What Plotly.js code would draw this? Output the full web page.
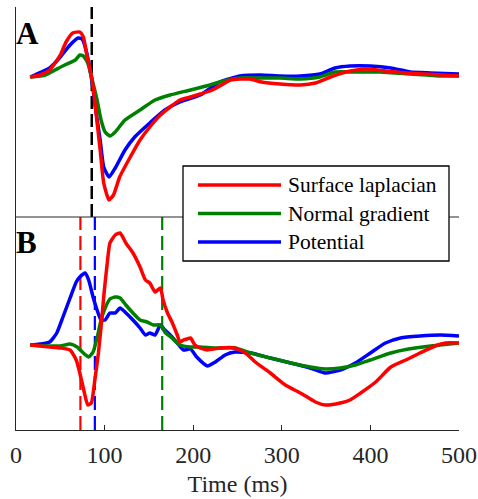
<!DOCTYPE html>
<html>
<head>
<meta charset="utf-8">
<script src="https://cdn.plot.ly/plotly-3.0.1.min.js"></script>
<style>html,body{margin:0;padding:0;background:#fff;}#chart{width:478px;height:499px;}</style>
</head>
<body>
<div id="chart"></div>
<script>
// ---- Panel A (arbitrary units) ----
const tA_lap = [16,27,38,50,56.5,64,72,76,80,86,90,95,99,105,110,117,129,140,151,163,174,185,197,208,219,230,242,264,277,298,321,338,355,372,394,417,440,462,500];
const vA_lap = [0,0.02,0.07,0.22,0.35,0.44,0.45,0.40,0.22,-0.03,-0.33,-0.73,-1.06,-1.23,-1.18,-1.00,-0.80,-0.63,-0.50,-0.38,-0.30,-0.23,-0.20,-0.17,-0.14,-0.09,-0.03,-0.02,-0.05,-0.07,-0.08,-0.06,0.00,0.05,0.08,0.06,0.04,0.03,0.01];

const tA_grad = [16,33,44,55,67,72,76,81,86,91.5,96,100.6,106,112,123,140,157,174,197,219,230,253,276,298,321,343,360,383,411,445,479,500];
const vA_grad = [0,0.02,0.07,0.12,0.17,0.22,0.21,0.14,-0.03,-0.23,-0.43,-0.55,-0.59,-0.55,-0.43,-0.33,-0.23,-0.18,-0.13,-0.08,-0.05,-0.01,-0.01,-0.01,-0.02,0.00,0.05,0.05,0.05,0.03,0.01,0.01];

const tA_pot = [16,38,50,61,70,74.6,79,86,90,95,99,105,112,123,134,151,168,185,208,230,253,276,298,321,343,360,377,400,423,445,468,500];
const vA_pot = [0,0.09,0.20,0.32,0.39,0.38,0.27,-0.06,-0.33,-0.63,-0.90,-1.00,-0.91,-0.73,-0.60,-0.46,-0.33,-0.25,-0.18,-0.05,0.01,0.02,0.01,0.01,0.03,0.09,0.11,0.11,0.09,0.05,0.04,0.03];

// ---- Panel B (arbitrary units) ----
const tB_lap = [16,27,38,50,61,68,72,77,81,85,89,93,96,99.4,103,106,112,117.5,124,132,140,146,151,157,163,166,171,176,182,185,189,193,197,202,208,216,230,247,259,270,287,304,321,338,349,366,377,389,406,423,440,456,473,485,500];
const vB_lap = [0,-0.01,-0.02,-0.03,-0.05,-0.15,-0.28,-0.47,-0.60,-0.58,-0.35,-0.08,0.18,0.52,0.82,1.02,1.10,1.12,1.02,0.92,0.78,0.65,0.62,0.53,0.57,0.45,0.32,0.23,0.10,0.03,0.05,0.06,0.07,0.00,-0.03,-0.05,-0.03,-0.03,-0.08,-0.17,-0.28,-0.40,-0.48,-0.57,-0.60,-0.58,-0.55,-0.48,-0.37,-0.22,-0.15,-0.08,-0.01,0.02,0.02];

const tB_grad = [16,38,50,61,69,76,82,87,91.5,96,100.6,106,112,117.5,124,132,140,148,155,163,168,176,185,197,208,225,247,265,287,310,332,349,366,383,400,423,443,468,500];
const vB_grad = [0,-0.01,-0.01,0.01,-0.02,-0.08,-0.12,-0.07,0.07,0.25,0.37,0.46,0.48,0.47,0.40,0.32,0.25,0.23,0.20,0.20,0.13,0.07,0.00,-0.02,-0.02,-0.03,-0.03,-0.08,-0.13,-0.18,-0.22,-0.24,-0.23,-0.20,-0.15,-0.08,-0.04,-0.01,0.02];

const tB_pot = [16,27,38,46,53,61,68,72,78,82,87,91.5,96,100.6,106,112,117.5,123,132,140,146,151,157,163,168,174,182,189,197,204,216,225,236,247,265,287,310,332,349,366,383,400,417,434,456,479,500];
const vB_pot = [0,0.01,0.03,0.12,0.28,0.47,0.63,0.68,0.72,0.65,0.48,0.35,0.25,0.25,0.32,0.32,0.37,0.33,0.25,0.17,0.10,0.12,0.10,0.20,0.15,0.10,0.02,-0.05,-0.04,-0.12,-0.21,-0.17,-0.10,-0.07,-0.08,-0.13,-0.18,-0.23,-0.28,-0.25,-0.18,-0.08,0.02,0.07,0.09,0.10,0.09];

// marker latencies (ms)
const markA = 85.5;
const markB = [72.7, 89, 165];
const markBColors = ['#ff0000', '#0000ff', '#008000'];

const seriesNames = ['Surface laplacian', 'Normal gradient', 'Potential'];
const seriesColors = ['#ff0000', '#008000', '#0000ff'];
const xTicks = [0, 100, 200, 300, 400, 500];

const FONT = 'Liberation Serif';
const lw = 3.5;
function tr(x, y, color, yax) {
  return {x: x, y: y, type: 'scatter', mode: 'lines', yaxis: yax, xaxis: 'x',
    line: {color: color, width: lw, shape: 'spline', smoothing: 0.5}, showlegend: false, hoverinfo: 'skip'};
}
const data = [
  tr(tA_pot, vA_pot, seriesColors[2], 'y2'),
  tr(tA_grad, vA_grad, seriesColors[1], 'y2'),
  tr(tA_lap, vA_lap, seriesColors[0], 'y2'),
  tr(tB_pot, vB_pot, seriesColors[2], 'y'),
  tr(tB_grad, vB_grad, seriesColors[1], 'y'),
  tr(tB_lap, vB_lap, seriesColors[0], 'y')
];

const W = 478, H = 499, ML = 16, MR = 19, MT = 7, MB = 69;
const PW = W - ML - MR, PH = H - MT - MB;
const px = v => (v - ML) / PW;
const py = v => (H - MB - v) / PH;
const split = py(217);
const axc = '#262626';

const shapes = [];
shapes.push({type: 'line', xref: 'x', yref: 'y2 domain', x0: markA, x1: markA, y0: 0, y1: 1,
  line: {color: '#000', width: 2.5, dash: '13px,5px'}, layer: 'below'});
markB.forEach((m, i) => shapes.push({type: 'line', xref: 'x', yref: 'y domain', x0: m, x1: m, y0: 0, y1: 1,
  line: {color: markBColors[i], width: 2.2, dash: '14px,6px'}, layer: 'below'}));
shapes.push({type: 'line', xref: 'paper', yref: 'paper', x0: 0, x1: 1, y0: split, y1: split,
  line: {color: axc, width: 1}});
// legend box
shapes.push({type: 'rect', xref: 'paper', yref: 'paper', x0: px(183), x1: px(449), y0: py(261), y1: py(166),
  fillcolor: '#fff', line: {color: '#000', width: 1.3}});
const rowY = [185, 213.5, 242];
const annotations = [];
seriesNames.forEach((n, i) => {
  shapes.push({type: 'line', xref: 'paper', yref: 'paper', x0: px(198), x1: px(281), y0: py(rowY[i]), y1: py(rowY[i]),
    line: {color: seriesColors[i], width: lw}});
  annotations.push({xref: 'paper', yref: 'paper', x: px(286), y: py(rowY[i]), xanchor: 'left', yanchor: 'middle',
    text: n, showarrow: false, font: {family: FONT, size: 21.5, color: '#000'}});
});
annotations.push({xref: 'paper', yref: 'paper', x: px(14), y: py(34), xanchor: 'left', yanchor: 'middle',
  text: '<b>A</b>', showarrow: false, font: {family: FONT, size: 31, color: '#000'}});
annotations.push({xref: 'paper', yref: 'paper', x: px(14), y: py(243), xanchor: 'left', yanchor: 'middle',
  text: '<b>B</b>', showarrow: false, font: {family: FONT, size: 31, color: '#000'}});

const layout = {
  width: W, height: H,
  margin: {l: ML, r: MR, t: MT, b: MB},
  paper_bgcolor: '#fff', plot_bgcolor: '#fff',
  showlegend: false,
  xaxis: {range: [0, 500], tickvals: xTicks, ticktext: xTicks.map(String), ticks: 'inside', ticklen: 5, tickcolor: axc,
    showline: true, linecolor: axc, linewidth: 1, showgrid: false, zeroline: false, anchor: 'y',
    tickfont: {family: FONT, size: 24, color: axc}, ticklabelstandoff: 3,
    title: {text: 'Time (ms)', font: {family: FONT, size: 24, color: axc}, standoff: 8}},
  yaxis: {domain: [0, split], range: [-0.85, 1.28], showline: true, linecolor: axc, linewidth: 1,
    showticklabels: false, ticks: '', showgrid: false, zeroline: false},
  yaxis2: {domain: [split, 1], range: [-1.40, 0.70], showline: true, linecolor: axc, linewidth: 1,
    showticklabels: false, ticks: '', showgrid: false, zeroline: false, anchor: 'x'},
  shapes: shapes,
  annotations: annotations
};
Plotly.newPlot('chart', data, layout, {displayModeBar: false, staticPlot: true});
</script>
</body>
</html>
